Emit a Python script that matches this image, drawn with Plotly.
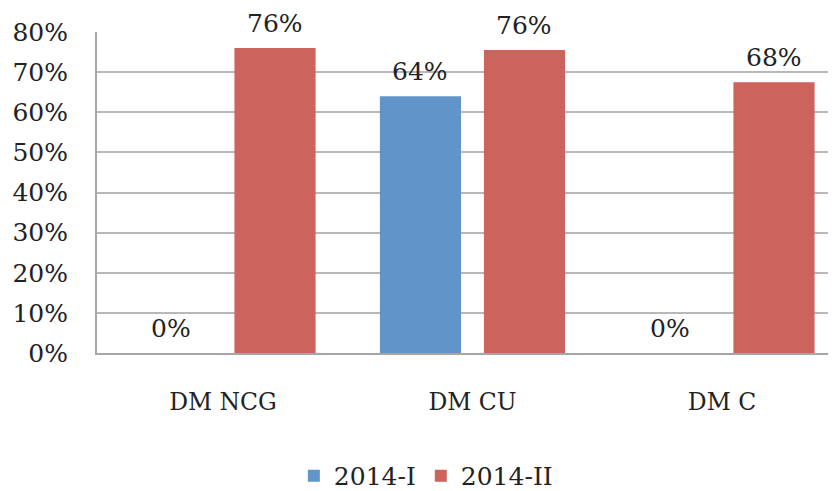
import plotly.graph_objects as go

categories = ["DM NCG", "DM CU", "DM C"]
series_names = ["2014-I", "2014-II"]
values_2014_I = [0.0, 0.64, 0.0]
values_2014_II = [0.76, 0.755, 0.675]
y_tickvals = [0, 0.1, 0.2, 0.3, 0.4, 0.5, 0.6, 0.7, 0.8]
y_ticktext = ["0%", "10%", "20%", "30%", "40%", "50%", "60%", "70%", "80%"]

colors = ["#6194C9", "#CC635C"]
serif = "DejaVu Serif"
text_color = "#222222"


def labels(vals):
    return [f"{round(v * 100)}%" for v in vals]


fig = go.Figure()
for name, vals, col in zip(series_names, [values_2014_I, values_2014_II], colors):
    fig.add_trace(go.Bar(
        x=categories, y=vals, name=name, marker_color=col,
        marker_line_width=0,
    ))

# data labels, placed above each bar of the grouped pair
slot_px = 104
for vals, shift in zip([values_2014_I, values_2014_II], [-slot_px / 2, slot_px / 2]):
    for cat, v, lab in zip(categories, vals, labels(vals)):
        fig.add_annotation(
            x=cat, y=v, xref="x", yref="y", text=lab, showarrow=False,
            xanchor="center", yanchor="bottom", xshift=shift, yshift=8,
            font=dict(family=serif, size=25, color=text_color),
        )

fig.update_layout(
    width=828, height=483,
    margin=dict(l=89, r=0, t=24, b=138, autoexpand=False),
    plot_bgcolor="white", paper_bgcolor="white",
    barmode="group", bargap=0.166, bargroupgap=0.22,
    showlegend=True,
    legend=dict(orientation="h", x=0.445, xanchor="center", y=-0.383, yanchor="middle",
                font=dict(family=serif, size=25, color=text_color),
                itemwidth=30, traceorder="normal"),
    font=dict(family=serif, color=text_color),
)
fig.update_xaxes(
    range=[-0.505, 2.457], showgrid=False, automargin=False,
    showline=True, linecolor="#A6A6A6", linewidth=2,
    ticks="", ticklabelstandoff=27,
    tickfont=dict(family=serif, size=23.5, color=text_color),
)
fig.update_yaxes(
    range=[0, 0.8], tickvals=y_tickvals, ticktext=y_ticktext, automargin=False,
    showgrid=True, gridcolor="#B8B8B8", gridwidth=2,
    showline=True, linecolor="#A6A6A6", linewidth=2,
    zeroline=False, ticks="", ticklabelstandoff=22,
    tickfont=dict(family=serif, size=25, color=text_color),
)
fig.write_html("out.html")
